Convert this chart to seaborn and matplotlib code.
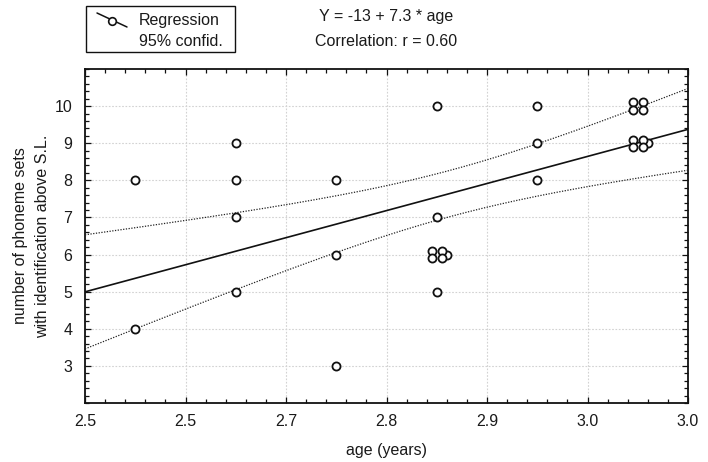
import numpy as np
import matplotlib
matplotlib.use("Agg")
import matplotlib.pyplot as plt
from matplotlib.ticker import FixedLocator, FixedFormatter, AutoMinorLocator
from matplotlib.patches import Rectangle
from matplotlib.lines import Line2D
import seaborn as sns

# ---- data ----
age = [2.5, 2.5,
       2.6, 2.6, 2.6, 2.6,
       2.7, 2.7, 2.7,
       2.8, 2.8, 2.8, 2.81, 2.795, 2.805, 2.795, 2.805,
       2.9, 2.9, 2.9,
       2.995, 3.005, 2.995, 3.005,
       3.01, 2.995, 3.005, 2.995, 3.005]
phoneme_sets = [8, 4,
                9, 8, 7, 5,
                8, 6, 3,
                10, 7, 5, 6.0, 6.1, 6.1, 5.9, 5.9,
                10, 9, 8,
                10.1, 10.1, 9.9, 9.9,
                9.0, 9.1, 9.1, 8.9, 8.9]
x_ticks = [2.45, 2.55, 2.65, 2.75, 2.85, 2.95, 3.05]
x_tick_labels = ["2.5", "2.5", "2.7", "2.8", "2.9", "3.0", "3.0"]
y_ticks = [3, 4, 5, 6, 7, 8, 9, 10]
y_tick_labels = ["3", "4", "5", "6", "7", "8", "9", "10"]
equation_text = "Y = -13 + 7.3 * age"
correlation_text = "Correlation: r = 0.60"
T_CRIT_95 = 2.0518  # t(0.975, df = n - 2 = 27)

sns.set_theme(style="white")
plt.rcParams["font.family"] = ["Liberation Sans", "DejaVu Sans"]
FS = 11.5
TXT = "#1a1a1a"

fig = plt.figure(figsize=(7.08, 4.62), dpi=100)
fig.patch.set_facecolor("white")
ax = fig.add_axes([85 / 708, 1 - 403 / 462, 603 / 708, 334 / 462])
ax.set_facecolor("white")

xlim = (2.45, 3.05)
ylim = (2.0, 11.0)
ax.set_xlim(*xlim)
ax.set_ylim(*ylim)

# regression line (seaborn), extended to the axis limits
sns.regplot(x=age, y=phoneme_sets, ax=ax, scatter=False, ci=None, truncate=False,
            line_kws=dict(color="#111111", lw=1.2, zorder=3))

# 95% confidence lines for the mean
xa = np.asarray(age, float)
ya = np.asarray(phoneme_sets, float)
n = len(xa)
slope, intercept = np.polyfit(xa, ya, 1)
resid = ya - (intercept + slope * xa)
s = np.sqrt(np.sum(resid ** 2) / (n - 2))
sxx = np.sum((xa - xa.mean()) ** 2)
xg = np.linspace(xlim[0], xlim[1], 200)
yg = intercept + slope * xg
half = T_CRIT_95 * s * np.sqrt(1.0 / n + (xg - xa.mean()) ** 2 / sxx)
ax.plot(xg, yg + half, color="#222222", lw=0.9, ls=(0, (1, 1.2)), zorder=3)
ax.plot(xg, yg - half, color="#222222", lw=0.9, ls=(0, (1, 1.2)), zorder=3)

# data points
sns.scatterplot(x=age, y=phoneme_sets, ax=ax, marker="o", s=34,
                facecolor="white", edgecolor="#111111", linewidth=1.3, zorder=4)

ax.set_xlim(*xlim)
ax.set_ylim(*ylim)

# ticks
ax.xaxis.set_major_locator(FixedLocator(x_ticks))
ax.xaxis.set_major_formatter(FixedFormatter(x_tick_labels))
ax.yaxis.set_major_locator(FixedLocator(y_ticks))
ax.yaxis.set_major_formatter(FixedFormatter(y_tick_labels))
ax.xaxis.set_minor_locator(AutoMinorLocator(5))
ax.yaxis.set_minor_locator(AutoMinorLocator(5))
ax.tick_params(which="both", direction="in", top=True, right=True,
               bottom=True, left=True, color="#111111", width=0.9)
ax.tick_params(which="major", length=4)
ax.tick_params(which="minor", length=3)
ax.tick_params(axis="x", which="major", pad=8, labelsize=FS, labelcolor=TXT)
ax.tick_params(axis="y", which="major", pad=9, labelsize=FS, labelcolor=TXT)

ax.grid(True, which="major", color="#d2d2d2", lw=0.8, ls=(0, (1.5, 1.5)), zorder=0)
ax.set_axisbelow(True)
for sp in ax.spines.values():
    sp.set_visible(True)
    sp.set_color("#111111")
    sp.set_linewidth(1.3)

ax.set_xlabel("age (years)", fontsize=FS, color=TXT, labelpad=10)
ax.set_ylabel("number of phoneme sets\nwith identification above S.L.",
              fontsize=FS, color=TXT, linespacing=1.55)
ax.yaxis.set_label_coords(-0.058, 0.5)

# header texts
fig.text(386 / 708, 1 - 17 / 462, equation_text, ha="center", va="center",
         fontsize=FS, color=TXT)
fig.text(386 / 708, 1 - 42 / 462, correlation_text, ha="center", va="center",
         fontsize=FS, color=TXT)

# legend box
fig.add_artist(Rectangle((86 / 708, 1 - 52 / 462), 149 / 708, 46 / 462,
                         transform=fig.transFigure, fill=False,
                         edgecolor="#111111", lw=1.0))
fig.add_artist(Line2D([97 / 708, 127 / 708], [1 - 13 / 462, 1 - 27 / 462],
                      transform=fig.transFigure, color="#111111", lw=1.1))
fig.add_artist(Line2D([112 / 708], [1 - 20.5 / 462], transform=fig.transFigure,
                      marker="o", ms=5.5, mfc="white", mec="#111111", mew=1.2, ls="none"))
fig.text(139 / 708, 1 - 21 / 462, "Regression", ha="left", va="center",
         fontsize=FS, color=TXT)
fig.text(139 / 708, 1 - 41 / 462, "95% confid.", ha="left", va="center",
         fontsize=FS, color=TXT)

fig.savefig("out.png", dpi=100, facecolor="white")
